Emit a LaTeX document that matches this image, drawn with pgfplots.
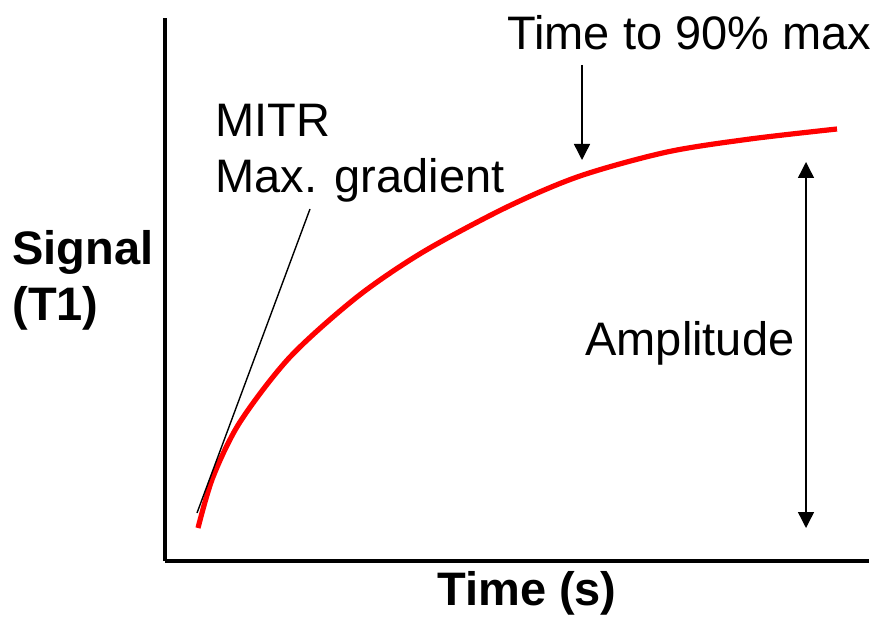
\documentclass[border=0pt]{standalone}
\usepackage{fontspec}
\setmainfont{Liberation Sans}
\usepackage{pgfplots}
\pgfplotsset{compat=1.18}
\usetikzlibrary{arrows.meta}

% curve (x in px, y = 627 - px)
\pgfplotstableread{
x y
198 99
213 150
240 205
290 270
357 330
423 375
507 420
580 451
667 475
750 488
837 498
}\curve

\newcommand{\lbl}{\fontsize{23.5}{28}\selectfont}

\begin{document}
\begin{tikzpicture}
\begin{axis}[
    scale only axis,
    width=352pt, height=271.5pt,
    xmin=165, xmax=869,
    ymin=66, ymax=609,
    axis x line=bottom, axis y line=left,
    axis line style={-, line width=2.4pt, black},
    xtick=\empty, ytick=\empty,
    clip=false,
]
  % invisible frame, keeps the page at the reference size
  \path (axis cs:0,0) rectangle (axis cs:882,627);

  \addplot[red, line width=2.6pt, smooth] table {\curve};

  % max gradient tangent
  \addplot[black, line width=0.7pt] coordinates {(197,114) (310,418)};

  % time to 90% marker
  \draw[line width=0.7pt, -{Triangle[width=8pt,length=8pt]}]
      (axis cs:582,562) -- (axis cs:582,467);
  % amplitude
  \draw[line width=0.7pt, {Triangle[width=8pt,length=8pt]}-{Triangle[width=8pt,length=8pt]}]
      (axis cs:806,465) -- (axis cs:806,99);

  \node[anchor=base west, inner sep=0pt, font=\lbl] at (axis cs:215,490) {MITR};
  \node[anchor=base west, inner sep=0pt, font=\lbl] at (axis cs:215,434) {Max. gradient};
  \node[anchor=base west, inner sep=0pt, font=\lbl] at (axis cs:507,577) {Time to 90\% max};
  \node[anchor=base west, inner sep=0pt, font=\lbl] at (axis cs:585,272) {Amplitude};

  \node[anchor=base west, inner sep=0pt, font=\lbl\bfseries] at (axis cs:12,362) {Signal};
  \node[anchor=base west, inner sep=0pt, font=\lbl\bfseries] at (axis cs:12,307) {(T1)};
  \node[anchor=base, inner sep=0pt, font=\lbl\bfseries] at (axis cs:527,22) {Time (s)};
\end{axis}
\end{tikzpicture}
\end{document}
